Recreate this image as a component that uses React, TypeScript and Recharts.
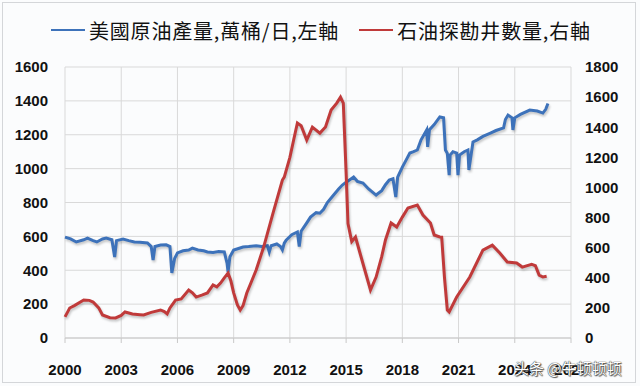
import { LineChart, Line, XAxis, YAxis, CartesianGrid } from 'recharts';

// 美國原油產量 (萬桶/日) — 左軸
const prodYears = [
  2000.0, 2000.3, 2000.6, 2001.0, 2001.2, 2001.5, 2001.7, 2002.0, 2002.2, 2002.5, 2002.65, 2002.75,
  2003.1, 2003.4, 2003.7, 2004.0, 2004.4, 2004.6, 2004.7, 2004.8, 2005.1, 2005.4, 2005.6, 2005.7,
  2005.85, 2006.0, 2006.3, 2006.6, 2006.8, 2007.1, 2007.4, 2007.6, 2007.9, 2008.2, 2008.5, 2008.65,
  2008.7, 2008.8, 2009.0, 2009.3, 2009.5, 2009.8, 2010.2, 2010.5, 2010.8, 2010.9, 2011.0, 2011.3,
  2011.5, 2011.6, 2011.7, 2011.8, 2012.1, 2012.4, 2012.5, 2012.6, 2012.9, 2013.1, 2013.4, 2013.6,
  2013.8, 2014.0, 2014.3, 2014.6, 2014.8, 2015.0, 2015.2, 2015.4, 2015.6, 2015.9, 2016.2, 2016.6,
  2016.9, 2017.1, 2017.3, 2017.5, 2017.65, 2017.75, 2018.0, 2018.2, 2018.4, 2018.6, 2018.8, 2019.0,
  2019.3, 2019.35, 2019.45, 2019.7, 2020.0, 2020.2, 2020.3, 2020.4, 2020.5, 2020.55, 2020.7, 2020.9,
  2020.97, 2021.05, 2021.3, 2021.5, 2021.55, 2021.77, 2022.0, 2022.3, 2022.7, 2023.0, 2023.4, 2023.5,
  2023.64, 2023.85, 2023.9, 2024.0, 2024.3, 2024.8, 2025.2, 2025.5, 2025.65, 2025.77,
];
const prodValues = [
  596, 585, 567, 580, 590, 575, 567, 585, 590, 580, 478, 575,
  584, 575, 567, 565, 561, 540, 460, 540, 549, 550, 540, 384,
  470, 502, 515, 519, 531, 520, 515, 508, 505, 510, 508, 440,
  390, 480, 519, 530, 537, 540, 545, 540, 545, 508, 545, 555,
  540, 520, 560, 578, 610, 626, 540, 630, 680, 714, 740, 737,
  760, 800, 840, 880, 903, 920, 935, 950, 925, 915, 880, 844,
  870, 905, 933, 940, 832, 950, 1009, 1050, 1092, 1100, 1110, 1170,
  1228, 1128, 1230, 1260, 1305, 1300, 1110, 1090, 962, 1080, 1100, 1092,
  962, 1080, 1100, 1110, 992, 1157, 1170, 1190, 1210, 1225, 1240, 1290,
  1316, 1300, 1228, 1300, 1320, 1346, 1340, 1328, 1350, 1385,
];

// 石油探勘井數量 — 右軸
const rigYears = [
  2000.0, 2000.25, 2000.5, 2001.0, 2001.3, 2001.5, 2001.8, 2002.0, 2002.4, 2002.7, 2003.0, 2003.2,
  2003.6, 2004.0, 2004.2, 2004.6, 2005.1, 2005.3, 2005.45, 2005.6, 2005.9, 2006.2, 2006.6, 2006.8,
  2007.0, 2007.3, 2007.6, 2007.9, 2008.1, 2008.3, 2008.5, 2008.7, 2008.85, 2009.0, 2009.2, 2009.35,
  2009.5, 2009.7, 2010.0, 2010.2, 2010.6, 2011.1, 2011.6, 2011.7, 2012.0, 2012.2, 2012.4, 2012.6,
  2012.9, 2013.2, 2013.6, 2013.9, 2014.2, 2014.5, 2014.7, 2014.85, 2015.0, 2015.1, 2015.3, 2015.5,
  2015.8, 2016.0, 2016.3, 2016.6, 2016.9, 2017.1, 2017.4, 2017.7, 2018.0, 2018.3, 2018.8, 2019.1,
  2019.5, 2019.7, 2020.0, 2020.1, 2020.25, 2020.4, 2020.5, 2020.9, 2021.6, 2022.3, 2022.8, 2023.2,
  2023.6, 2024.1, 2024.4, 2024.9, 2025.1, 2025.3, 2025.5, 2025.7,
];
const rigValues = [
  140, 199, 215, 252, 250, 239, 200, 153, 135, 133, 150, 173,
  160, 155, 153, 170, 186, 175, 160, 200, 252, 260, 319, 300,
  272, 285, 299, 352, 340, 365, 400, 432, 380, 300, 220, 186,
  215, 299, 390, 452, 604, 830, 1049, 1069, 1200, 1315, 1428, 1410,
  1315, 1401, 1361, 1401, 1514, 1560, 1600, 1560, 1100, 760, 640, 671,
  538, 450, 319, 405, 540, 651, 764, 737, 803, 863, 883, 817,
  764, 684, 671, 670, 400, 186, 173, 272, 405, 584, 617, 564,
  505, 498, 471, 490, 480, 418, 405, 410,
];

const yearTicks = [2000, 2003, 2006, 2009, 2012, 2015, 2018, 2021, 2024, 2027];
const leftTicks = [0, 200, 400, 600, 800, 1000, 1200, 1400, 1600];
const rightTicks = [0, 200, 400, 600, 800, 1000, 1200, 1400, 1600, 1800];

const prodData = prodYears.map((year, i) => ({ year, prod: prodValues[i] }));
const rigData = rigYears.map((year, i) => ({ year, rigs: rigValues[i] }));

const BLUE = '#3D72BA';
const RED = '#C03A3A';
const tickStyle = { fontFamily: '"Liberation Sans", Arial, sans-serif', fontSize: 15, fontWeight: 700, fill: '#111' };
const shadow = { filter: 'drop-shadow(1px 2px 1px rgba(0,0,0,0.22))' };

export default function App() {
  return (
    <div style={{ position: 'absolute', left: 0, top: 0, width: 640, height: 386, background: '#fbfcfd' }}>
      <div style={{ position: 'absolute', left: 2, top: 2, width: 634, height: 381, border: '1px solid #d4d6d9', boxSizing: 'border-box' }} />
      <div
        style={{
          position: 'absolute', left: 51, top: 17, height: 26, display: 'flex', alignItems: 'center',
          fontFamily: '"Noto Sans CJK TC", sans-serif', fontSize: 20, letterSpacing: 0.8, color: '#111', whiteSpace: 'nowrap',
        }}
      >
        <span style={{ display: 'inline-block', width: 34, height: 2, background: BLUE, marginRight: 4 }} />
        <span>美國原油產量,萬桶/日,左軸</span>
        <span style={{ display: 'inline-block', width: 34, height: 2, background: RED, marginLeft: 20, marginRight: 4 }} />
        <span>石油探勘井數量,右軸</span>
      </div>
      <LineChart width={640} height={386} margin={{ top: 67, right: 0, bottom: 0, left: 0 }}>
        <CartesianGrid yAxisId="left" stroke="#d9d9d9" />
        <XAxis
          type="number"
          dataKey="year"
          domain={[2000, 2027]}
          ticks={yearTicks}
          allowDuplicatedCategory={false}
          height={48}
          tick={tickStyle}
          tickSize={5}
          tickMargin={21}
          tickLine={{ stroke: '#c8c8c8' }}
          axisLine={{ stroke: '#c8c8c8' }}
        />
        <YAxis
          yAxisId="left"
          domain={[0, 1600]}
          ticks={leftTicks}
          width={65}
          tick={tickStyle}
          tickSize={0}
          tickMargin={17}
          axisLine={false}
          tickLine={false}
        />
        <YAxis
          yAxisId="right"
          orientation="right"
          domain={[0, 1800]}
          ticks={rightTicks}
          width={69}
          tick={{ ...tickStyle, textAnchor: 'start' }}
          tickSize={0}
          tickMargin={14}
          axisLine={false}
          tickLine={false}
        />
        <Line
          yAxisId="left"
          data={prodData}
          dataKey="prod"
          type="linear"
          stroke={BLUE}
          strokeWidth={3}
          dot={false}
          style={shadow}
          isAnimationActive={false}
        />
        <Line
          yAxisId="right"
          data={rigData}
          dataKey="rigs"
          type="linear"
          stroke={RED}
          strokeWidth={3}
          dot={false}
          style={shadow}
          isAnimationActive={false}
        />
      </LineChart>
      <div
        style={{
          position: 'absolute', left: 514, top: 357, fontFamily: '"Noto Sans CJK SC", sans-serif', fontSize: 15,
          color: '#fff', whiteSpace: 'nowrap',
          textShadow: '0 0 1px #333, 0 0 1px #333, 1px 1px 1px #555',
        }}
      >
        头条 @牛顿顿顿
      </div>
    </div>
  );
}
